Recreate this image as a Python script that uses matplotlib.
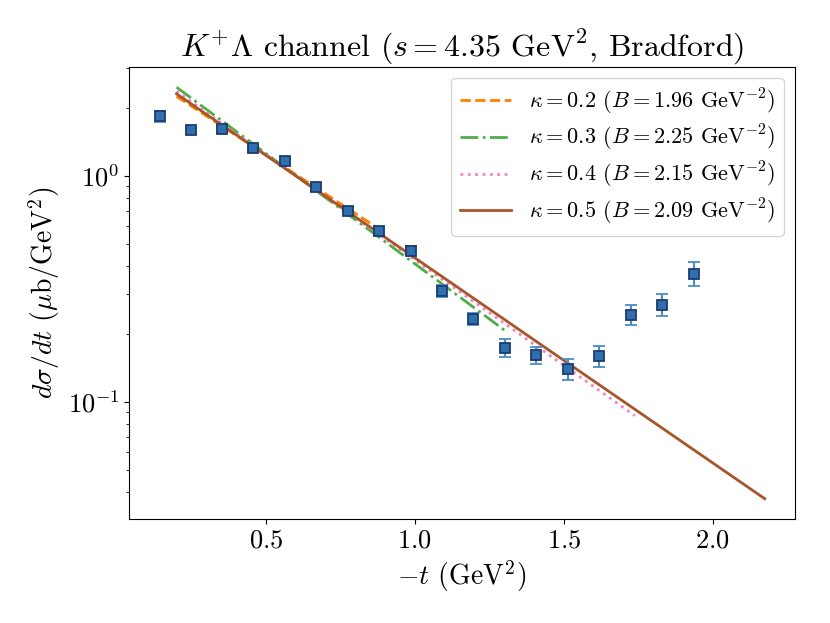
import numpy as np
import matplotlib
matplotlib.use("Agg")
import matplotlib.pyplot as plt
from matplotlib.ticker import MultipleLocator

plt.rcParams['font.family'] = 'serif'
plt.rcParams['font.serif'] = ['cmr10']
plt.rcParams['mathtext.fontset'] = 'cm'
plt.rcParams['axes.formatter.use_mathtext'] = True

# === DATA ===
t_data = [0.143, 0.249, 0.353, 0.457, 0.564, 0.669, 0.776, 0.880, 0.987,
          1.091, 1.195, 1.302, 1.406, 1.513, 1.618, 1.725, 1.829, 1.936]
dsdt = [1.84, 1.59, 1.61, 1.33, 1.16, 0.89, 0.70, 0.57, 0.467,
        0.31, 0.233, 0.173, 0.161, 0.140, 0.160, 0.243, 0.269, 0.369]
dsdt_err = [0.10, 0.04, 0.05, 0.04, 0.04, 0.03, 0.025, 0.02, 0.02,
            0.02, 0.015, 0.016, 0.014, 0.015, 0.017, 0.024, 0.03, 0.045]

# fit curves: straight lines on the log axis, given by their end points
kappas = [0.2, 0.3, 0.4, 0.5]
B_vals = [1.96, 2.25, 2.15, 2.09]
fit_t = [[0.20, 0.873], [0.20, 1.302], [0.20, 1.739], [0.20, 2.175]]
fit_y = [[2.25, 0.59], [2.47, 0.207], [2.37, 0.0867], [2.31, 0.0372]]

colors = ['#ff7f00', '#4daf4a', '#f781bf', '#a65628']
styles = ['--', '-.', ':', '-']

fig = plt.figure(figsize=(8.3, 6.23), dpi=100)
ax = fig.add_axes([0.1558, 0.1665, 0.8020, 0.7265])

ax.errorbar(t_data, dsdt, yerr=dsdt_err, fmt='s', ms=7,
            color='#3a80c0', mfc='#2f6fb0', mec='#1c3d6e', mew=1.3,
            ecolor='#4a8cc8', elinewidth=1.5, capsize=4, capthick=1.5, zorder=3)

for k, B, tt, yy, c, ls in zip(kappas, B_vals, fit_t, fit_y, colors, styles):
    ax.plot(tt, yy, ls, color=c, lw=2,
            label=rf'$\kappa = {k}$ ($B = {B:.2f}$ GeV$^{{-2}}$)')

ax.set_yscale('log')
ax.xaxis.set_major_locator(MultipleLocator(0.5))
ax.set_xlabel(r'$-t$ (GeV$^2$)', fontsize=20)
ax.set_ylabel(r'$d\sigma/dt$ ($\mu$b/GeV$^2$)', fontsize=20)
ax.set_title(r'$K^{+}\Lambda$ channel ($s = 4.35$ GeV$^2$, Bradford)', fontsize=23)
ax.tick_params(labelsize=19)
ax.legend(loc='upper right', fontsize=16, labelspacing=0.3, handlelength=2.3)

fig.savefig('out.png', dpi=100)
